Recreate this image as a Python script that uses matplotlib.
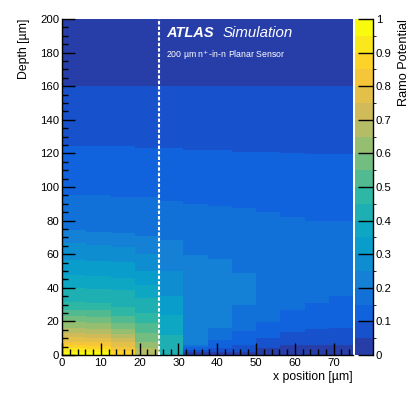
import numpy as np
import matplotlib
matplotlib.use("Agg")
import matplotlib.pyplot as plt
from matplotlib.colors import ListedColormap, BoundaryNorm, LinearSegmentedColormap

# ---------------- data ----------------
# x bins (µm)
x_edges = [0, 6.25, 12.5, 18.75, 25, 31.25, 37.5, 43.75, 50, 56.25, 62.5, 68.75, 75]
# For every x column: contour level (0..19, each 0.05 of Ramo potential) of each band,
# from depth 0 upward, and the depth (µm) at which that band ends.
col_levels = [
    [19, 18, 17, 16, 15, 14, 13, 12, 11, 10, 9, 8, 7, 6, 5, 4, 3, 2, 1, 0],
    [19, 18, 17, 16, 15, 14, 13, 12, 11, 10, 9, 8, 7, 6, 5, 4, 3, 2, 1, 0],
    [17, 16, 15, 14, 13, 12, 11, 10, 9, 8, 7, 6, 5, 4, 3, 2, 1, 0],
    [13, 12, 11, 10, 9, 8, 7, 6, 5, 4, 3, 2, 1, 0],
    [8, 7, 6, 5, 4, 3, 2, 1, 0],
    [0, 1, 2, 3, 4, 3, 2, 1, 0],
    [0, 1, 2, 3, 4, 3, 2, 1, 0],
    [0, 1, 2, 3, 4, 3, 2, 1, 0],
    [0, 1, 2, 3, 2, 1, 0],
    [0, 1, 2, 3, 2, 1, 0],
    [0, 1, 2, 3, 2, 1, 0],
    [0, 1, 2, 3, 2, 1, 0],
]
col_tops = [
    [2, 4, 6, 8, 10.5, 13, 16, 19.5, 23, 27, 31.5, 39.7, 47.6, 56.5, 66.5, 74.4, 95.2, 124.6, 160, 200],
    [1.5, 3.5, 5.5, 7.5, 10, 12.5, 15.5, 19, 22.5, 26.5, 31, 39, 46.8, 55.8, 65.5, 73.4, 95.2, 124.6, 160, 200],
    [2.5, 5, 7.5, 10, 12.5, 15.5, 19, 23, 28.8, 38.7, 45.6, 55.5, 64, 72.4, 94.2, 124.6, 160, 200],
    [4, 8, 13, 19, 25, 33.7, 41.7, 50, 60, 70.8, 94.2, 123.2, 160, 200],
    [12, 24, 35, 50, 68.5, 91.9, 123.2, 160, 200],
    [1.5, 3, 4.5, 6, 59.5, 89.7, 122, 160, 200],
    [2, 4, 9, 16, 57, 88.7, 122, 160, 200],
    [2, 6, 14, 30, 48.6, 87.7, 121, 160, 200],
    [4, 9.9, 19.8, 85.3, 121, 160, 200],
    [5.9, 13.9, 27, 82.3, 120, 160, 200],
    [5.9, 15.3, 30.8, 80, 119.6, 160, 200],
    [5.9, 15.9, 35.1, 80, 119.6, 160, 200],
]
n_levels = 20
cbar_ticks = [0, 0.1, 0.2, 0.3, 0.4, 0.5, 0.6, 0.7, 0.8, 0.9, 1]
cbar_ticklabels = ["0", "0.1", "0.2", "0.3", "0.4", "0.5", "0.6", "0.7", "0.8", "0.9", "1"]
x_ticks = [0, 10, 20, 30, 40, 50, 60, 70]
y_ticks = [0, 20, 40, 60, 80, 100, 120, 140, 160, 180, 200]

# ---------------- colour palette (ROOT kBird, 20 contours) ----------------
stops = [0.0, 0.125, 0.25, 0.375, 0.5, 0.625, 0.75, 0.875, 1.0]
red = [0.2082, 0.0592, 0.0780, 0.0232, 0.1802, 0.5301, 0.8186, 0.9956, 0.9764]
green = [0.1664, 0.3599, 0.5041, 0.6419, 0.7178, 0.7492, 0.7328, 0.7862, 0.9832]
blue = [0.5293, 0.8684, 0.8385, 0.7914, 0.6425, 0.4662, 0.3499, 0.1968, 0.0539]
bird = LinearSegmentedColormap.from_list(
    "bird", [(s, (r, g, b)) for s, r, g, b in zip(stops, red, green, blue)], N=255)
band_cols = [bird(int((i + 0.99) * 255 / n_levels) / 254) for i in range(n_levels)]
cmap = ListedColormap(band_cols)
bounds = np.linspace(0, 1, n_levels + 1)
norm = BoundaryNorm(bounds, cmap.N)

plt.rcParams['font.family'] = ['Liberation Sans', 'DejaVu Sans']

W, H = 415, 395
fig = plt.figure(figsize=(W / 100, H / 100), dpi=100)
ax = fig.add_axes([62 / W, (H - 355) / H, 291 / W, 336 / H])

mesh = None
for i in range(len(col_levels)):
    y_e = [0] + list(col_tops[i])
    vals = (np.array(col_levels[i], dtype=float) + 0.5) / n_levels
    mesh = ax.pcolormesh([x_edges[i], x_edges[i + 1]], y_e, vals[:, None],
                         cmap=cmap, norm=norm, shading='flat', antialiased=False,
                         edgecolors='none')

ax.set_xlim(0, 75)
ax.set_ylim(0, 200)

# dashed line at half pitch
ax.plot([25, 25], [0, 200], color='white', lw=1.5, dashes=(1.7, 0.9), zorder=5)

for s in ['top', 'right']:
    ax.spines[s].set_visible(False)
for s in ['left', 'bottom']:
    ax.spines[s].set_linewidth(1.0)

ax.set_xticks(x_ticks)
ax.set_yticks(y_ticks)
ax.set_xticks(np.arange(0, 75.1, 2), minor=True)
ax.set_yticks(np.arange(0, 200.1, 5), minor=True)
ax.tick_params(which='both', direction='in', top=False, right=False, labelsize=8.2, pad=2)
ax.tick_params(which='major', length=9, width=1)
ax.tick_params(which='minor', length=4.5, width=1)

ax.set_xlabel("x position [µm]", fontsize=8.8, ha='right', x=1.0, labelpad=2)
ax.set_ylabel("Depth [µm]", fontsize=8.8, ha='right', y=1.0, labelpad=7)

ax.text(0.36, 0.978, "ATLAS", transform=ax.transAxes, color='white', fontsize=10.5,
        fontweight='bold', fontstyle='italic', va='top', ha='left')
ax.text(0.552, 0.978, "Simulation", transform=ax.transAxes, color='white', fontsize=10.8,
        fontstyle='italic', va='top', ha='left')
ax.text(0.357, 0.912, "200 µm n$^{+}$-in-n Planar Sensor", transform=ax.transAxes,
        color='white', fontsize=6.3, va='top', ha='left')

# colour bar
cax = fig.add_axes([355 / W, (H - 355) / H, 18 / W, 336 / H])
cb = fig.colorbar(mesh, cax=cax, ticks=cbar_ticks)
cb.outline.set_visible(False)
cax.set_yticklabels(cbar_ticklabels)
cax.tick_params(direction='in', length=11, width=1, labelsize=8.2, pad=2)
cax.plot([1, 1], [0, 1], transform=cax.transAxes, color='black', lw=1, clip_on=False)
fig.text(404 / W, (H - 19) / H, "Ramo Potential", rotation=90, fontsize=9.2,
         ha='center', va='top')

fig.savefig("out.png", dpi=100)
